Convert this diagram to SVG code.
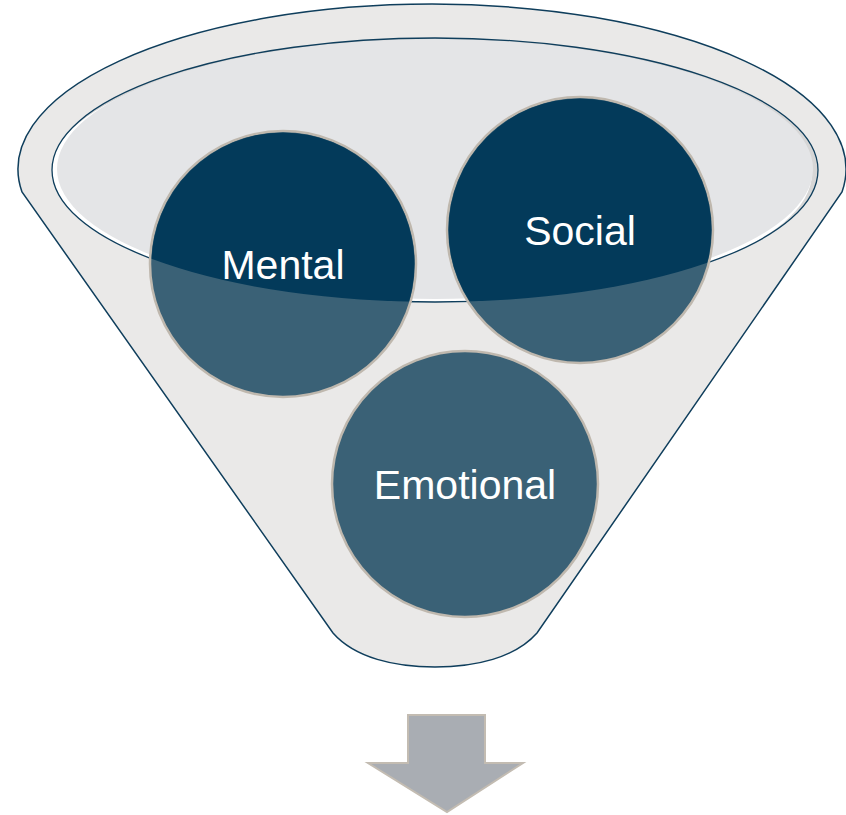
<svg xmlns="http://www.w3.org/2000/svg" width="846" height="815" viewBox="0 0 846 815">
<defs>
<style>
.funnel{fill:#EAE9E8;stroke:#0F3E5C;stroke-width:1.5}
.rim{fill:none;stroke:#0F3E5C;stroke-width:1.3}
.lite{fill:#3A6176;stroke:#BFB8AE;stroke-width:2.5}
.dark{fill:#033A5A}
.lbl{font-family:"Liberation Sans",Arial,sans-serif;font-size:41px;fill:#FFFFFF;text-anchor:middle}
</style>
<clipPath id="inner"><ellipse cx="435" cy="170" rx="383" ry="132"/></clipPath>
</defs>
<g id="funnel">
<path class="funnel" d="M22,192 A414,165 0 1 1 842,192 L537,633 C515,658 475,667 435,667 C395,667 355,658 333,633 Z"/>
<g clip-path="url(#inner)">
<rect x="40" y="30" width="790" height="280" fill="#D6D6D6"/>
<ellipse cx="431" cy="173" rx="381" ry="131" fill="#FFFFFF"/>
<ellipse cx="435" cy="169" rx="378" ry="130" fill="#E4E5E7"/>
</g>
<ellipse class="rim" cx="435" cy="170" rx="383" ry="132"/>
</g>
<g id="mental">
<circle class="lite" cx="283" cy="264" r="133"/>
<circle class="dark" cx="283" cy="264" r="131.5" clip-path="url(#inner)"/>
<text class="lbl" x="283" y="279">Mental</text>
</g>
<g id="social">
<circle class="lite" cx="580" cy="230" r="133"/>
<circle class="dark" cx="580" cy="230" r="131.5" clip-path="url(#inner)"/>
<text class="lbl" x="580" y="245">Social</text>
</g>
<g id="emotional">
<circle class="lite" cx="465" cy="484" r="133"/>
<text class="lbl" x="465" y="499">Emotional</text>
</g>
<g id="arrow">
<path d="M408,715 L485,715 L485,763 L523,763 L447,812 L368,763 L408,763 Z" fill="#A9ADB3" stroke="#C3BCB2" stroke-width="2"/>
</g>
</svg>
